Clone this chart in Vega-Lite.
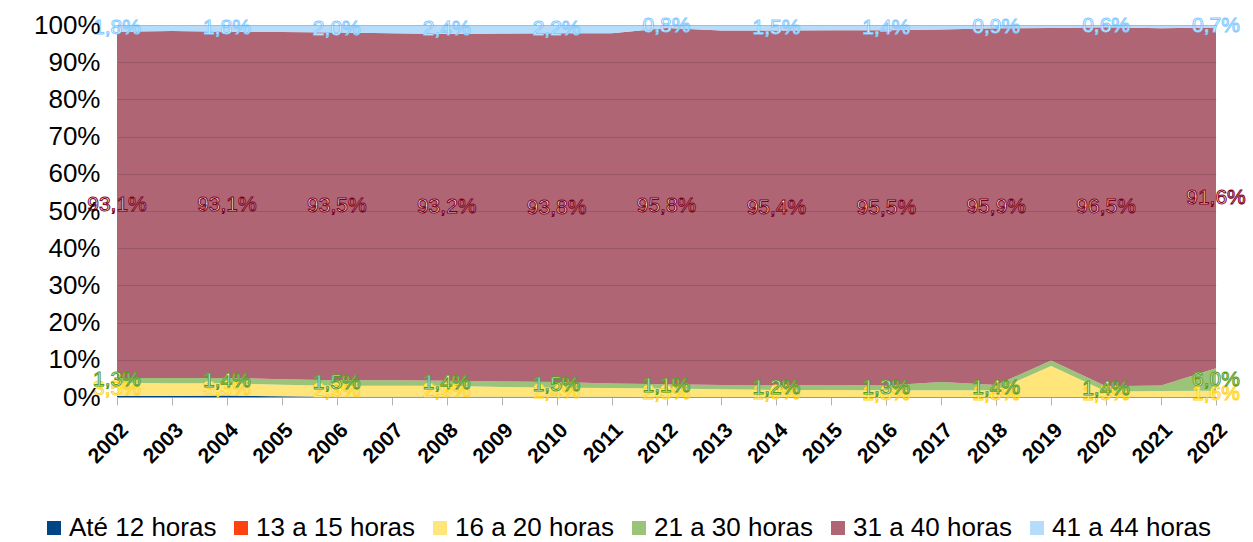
{
  "$schema": "https://vega.github.io/schema/vega-lite/v6.json",
  "width": 1099,
  "height": 372,
  "autosize": "none",
  "padding": {"left": 117, "top": 25, "right": 37, "bottom": 145},
  "background": "white",
  "config": {
    "font": "Liberation Sans",
    "view": {"stroke": null}
  },
  "data": {
    "values": [
      {"ano": 2002, "faixa": "Até 12 horas", "pct": 0.3}, {"ano": 2002, "faixa": "13 a 15 horas", "pct": 0.0}, {"ano": 2002, "faixa": "16 a 20 horas", "pct": 3.5}, {"ano": 2002, "faixa": "21 a 30 horas", "pct": 1.3}, {"ano": 2002, "faixa": "31 a 40 horas", "pct": 93.1}, {"ano": 2002, "faixa": "41 a 44 horas", "pct": 1.8},
      {"ano": 2003, "faixa": "Até 12 horas", "pct": 0.3}, {"ano": 2003, "faixa": "13 a 15 horas", "pct": 0.0}, {"ano": 2003, "faixa": "16 a 20 horas", "pct": 3.4}, {"ano": 2003, "faixa": "21 a 30 horas", "pct": 1.4}, {"ano": 2003, "faixa": "31 a 40 horas", "pct": 93.3}, {"ano": 2003, "faixa": "41 a 44 horas", "pct": 1.6},
      {"ano": 2004, "faixa": "Até 12 horas", "pct": 0.4}, {"ano": 2004, "faixa": "13 a 15 horas", "pct": 0.0}, {"ano": 2004, "faixa": "16 a 20 horas", "pct": 3.3}, {"ano": 2004, "faixa": "21 a 30 horas", "pct": 1.4}, {"ano": 2004, "faixa": "31 a 40 horas", "pct": 93.1}, {"ano": 2004, "faixa": "41 a 44 horas", "pct": 1.8},
      {"ano": 2005, "faixa": "Até 12 horas", "pct": 0.2}, {"ano": 2005, "faixa": "13 a 15 horas", "pct": 0.0}, {"ano": 2005, "faixa": "16 a 20 horas", "pct": 3.1}, {"ano": 2005, "faixa": "21 a 30 horas", "pct": 1.5}, {"ano": 2005, "faixa": "31 a 40 horas", "pct": 93.3}, {"ano": 2005, "faixa": "41 a 44 horas", "pct": 1.9},
      {"ano": 2006, "faixa": "Até 12 horas", "pct": 0.1}, {"ano": 2006, "faixa": "13 a 15 horas", "pct": 0.0}, {"ano": 2006, "faixa": "16 a 20 horas", "pct": 2.9}, {"ano": 2006, "faixa": "21 a 30 horas", "pct": 1.5}, {"ano": 2006, "faixa": "31 a 40 horas", "pct": 93.5}, {"ano": 2006, "faixa": "41 a 44 horas", "pct": 2.0},
      {"ano": 2007, "faixa": "Até 12 horas", "pct": 0.1}, {"ano": 2007, "faixa": "13 a 15 horas", "pct": 0.0}, {"ano": 2007, "faixa": "16 a 20 horas", "pct": 2.9}, {"ano": 2007, "faixa": "21 a 30 horas", "pct": 1.5}, {"ano": 2007, "faixa": "31 a 40 horas", "pct": 93.3}, {"ano": 2007, "faixa": "41 a 44 horas", "pct": 2.2},
      {"ano": 2008, "faixa": "Até 12 horas", "pct": 0.1}, {"ano": 2008, "faixa": "13 a 15 horas", "pct": 0.0}, {"ano": 2008, "faixa": "16 a 20 horas", "pct": 2.9}, {"ano": 2008, "faixa": "21 a 30 horas", "pct": 1.4}, {"ano": 2008, "faixa": "31 a 40 horas", "pct": 93.2}, {"ano": 2008, "faixa": "41 a 44 horas", "pct": 2.4},
      {"ano": 2009, "faixa": "Até 12 horas", "pct": 0.1}, {"ano": 2009, "faixa": "13 a 15 horas", "pct": 0.0}, {"ano": 2009, "faixa": "16 a 20 horas", "pct": 2.6}, {"ano": 2009, "faixa": "21 a 30 horas", "pct": 1.5}, {"ano": 2009, "faixa": "31 a 40 horas", "pct": 93.5}, {"ano": 2009, "faixa": "41 a 44 horas", "pct": 2.3},
      {"ano": 2010, "faixa": "Até 12 horas", "pct": 0.1}, {"ano": 2010, "faixa": "13 a 15 horas", "pct": 0.0}, {"ano": 2010, "faixa": "16 a 20 horas", "pct": 2.4}, {"ano": 2010, "faixa": "21 a 30 horas", "pct": 1.5}, {"ano": 2010, "faixa": "31 a 40 horas", "pct": 93.8}, {"ano": 2010, "faixa": "41 a 44 horas", "pct": 2.2},
      {"ano": 2011, "faixa": "Até 12 horas", "pct": 0.1}, {"ano": 2011, "faixa": "13 a 15 horas", "pct": 0.0}, {"ano": 2011, "faixa": "16 a 20 horas", "pct": 2.3}, {"ano": 2011, "faixa": "21 a 30 horas", "pct": 1.2}, {"ano": 2011, "faixa": "31 a 40 horas", "pct": 94.2}, {"ano": 2011, "faixa": "41 a 44 horas", "pct": 2.2},
      {"ano": 2012, "faixa": "Até 12 horas", "pct": 0.0}, {"ano": 2012, "faixa": "13 a 15 horas", "pct": 0.0}, {"ano": 2012, "faixa": "16 a 20 horas", "pct": 2.3}, {"ano": 2012, "faixa": "21 a 30 horas", "pct": 1.1}, {"ano": 2012, "faixa": "31 a 40 horas", "pct": 95.8}, {"ano": 2012, "faixa": "41 a 44 horas", "pct": 0.8},
      {"ano": 2013, "faixa": "Até 12 horas", "pct": 0.0}, {"ano": 2013, "faixa": "13 a 15 horas", "pct": 0.0}, {"ano": 2013, "faixa": "16 a 20 horas", "pct": 2.1}, {"ano": 2013, "faixa": "21 a 30 horas", "pct": 1.1}, {"ano": 2013, "faixa": "31 a 40 horas", "pct": 95.3}, {"ano": 2013, "faixa": "41 a 44 horas", "pct": 1.5},
      {"ano": 2014, "faixa": "Até 12 horas", "pct": 0.0}, {"ano": 2014, "faixa": "13 a 15 horas", "pct": 0.0}, {"ano": 2014, "faixa": "16 a 20 horas", "pct": 1.9}, {"ano": 2014, "faixa": "21 a 30 horas", "pct": 1.2}, {"ano": 2014, "faixa": "31 a 40 horas", "pct": 95.4}, {"ano": 2014, "faixa": "41 a 44 horas", "pct": 1.5},
      {"ano": 2015, "faixa": "Até 12 horas", "pct": 0.0}, {"ano": 2015, "faixa": "13 a 15 horas", "pct": 0.0}, {"ano": 2015, "faixa": "16 a 20 horas", "pct": 1.9}, {"ano": 2015, "faixa": "21 a 30 horas", "pct": 1.3}, {"ano": 2015, "faixa": "31 a 40 horas", "pct": 95.4}, {"ano": 2015, "faixa": "41 a 44 horas", "pct": 1.4},
      {"ano": 2016, "faixa": "Até 12 horas", "pct": 0.0}, {"ano": 2016, "faixa": "13 a 15 horas", "pct": 0.0}, {"ano": 2016, "faixa": "16 a 20 horas", "pct": 1.8}, {"ano": 2016, "faixa": "21 a 30 horas", "pct": 1.3}, {"ano": 2016, "faixa": "31 a 40 horas", "pct": 95.5}, {"ano": 2016, "faixa": "41 a 44 horas", "pct": 1.4},
      {"ano": 2017, "faixa": "Até 12 horas", "pct": 0.0}, {"ano": 2017, "faixa": "13 a 15 horas", "pct": 0.0}, {"ano": 2017, "faixa": "16 a 20 horas", "pct": 1.8}, {"ano": 2017, "faixa": "21 a 30 horas", "pct": 2.2}, {"ano": 2017, "faixa": "31 a 40 horas", "pct": 94.8}, {"ano": 2017, "faixa": "41 a 44 horas", "pct": 1.2},
      {"ano": 2018, "faixa": "Até 12 horas", "pct": 0.0}, {"ano": 2018, "faixa": "13 a 15 horas", "pct": 0.0}, {"ano": 2018, "faixa": "16 a 20 horas", "pct": 1.8}, {"ano": 2018, "faixa": "21 a 30 horas", "pct": 1.4}, {"ano": 2018, "faixa": "31 a 40 horas", "pct": 95.9}, {"ano": 2018, "faixa": "41 a 44 horas", "pct": 0.9},
      {"ano": 2019, "faixa": "Até 12 horas", "pct": 0.0}, {"ano": 2019, "faixa": "13 a 15 horas", "pct": 0.0}, {"ano": 2019, "faixa": "16 a 20 horas", "pct": 8.3}, {"ano": 2019, "faixa": "21 a 30 horas", "pct": 1.5}, {"ano": 2019, "faixa": "31 a 40 horas", "pct": 89.4}, {"ano": 2019, "faixa": "41 a 44 horas", "pct": 0.8},
      {"ano": 2020, "faixa": "Até 12 horas", "pct": 0.0}, {"ano": 2020, "faixa": "13 a 15 horas", "pct": 0.0}, {"ano": 2020, "faixa": "16 a 20 horas", "pct": 1.5}, {"ano": 2020, "faixa": "21 a 30 horas", "pct": 1.4}, {"ano": 2020, "faixa": "31 a 40 horas", "pct": 96.5}, {"ano": 2020, "faixa": "41 a 44 horas", "pct": 0.6},
      {"ano": 2021, "faixa": "Até 12 horas", "pct": 0.0}, {"ano": 2021, "faixa": "13 a 15 horas", "pct": 0.0}, {"ano": 2021, "faixa": "16 a 20 horas", "pct": 1.6}, {"ano": 2021, "faixa": "21 a 30 horas", "pct": 1.5}, {"ano": 2021, "faixa": "31 a 40 horas", "pct": 96.0}, {"ano": 2021, "faixa": "41 a 44 horas", "pct": 0.9},
      {"ano": 2022, "faixa": "Até 12 horas", "pct": 0.1}, {"ano": 2022, "faixa": "13 a 15 horas", "pct": 0.0}, {"ano": 2022, "faixa": "16 a 20 horas", "pct": 1.6}, {"ano": 2022, "faixa": "21 a 30 horas", "pct": 6.0}, {"ano": 2022, "faixa": "31 a 40 horas", "pct": 91.6}, {"ano": 2022, "faixa": "41 a 44 horas", "pct": 0.7}
    ]
  },
  "transform": [
    {"calculate": "datum.faixa == 'Até 12 horas' ? 0 : datum.faixa == '13 a 15 horas' ? 1 : datum.faixa == '16 a 20 horas' ? 2 : datum.faixa == '21 a 30 horas' ? 3 : datum.faixa == '31 a 40 horas' ? 4 : 5", "as": "ordem"},
    {"stack": "pct", "groupby": ["ano"], "sort": [{"field": "ordem", "order": "ascending"}], "as": ["y0", "y1"]},
    {"calculate": "(datum.y0 + datum.y1) / 2", "as": "ymid"}
  ],
  "encoding": {
    "x": {
      "field": "ano", "type": "quantitative",
      "scale": {"domain": [2002, 2022], "nice": false, "zero": false},
      "axis": {
        "title": null,
        "values": [2002,2003,2004,2005,2006,2007,2008,2009,2010,2011,2012,2013,2014,2015,2016,2017,2018,2019,2020,2021,2022],
        "format": "d",
        "labelAngle": -45,
        "labelFontSize": 21,
        "labelFontWeight": "bold",
        "labelColor": "#000000",
        "labelFont": "Liberation Sans",
        "labelPadding": 14,
        "labelOverlap": false,
        "labelFlush": false,
        "labelBound": false,
        "domainColor": "#b3b3b3",
        "tickColor": "#b3b3b3",
        "tickSize": 8,
        "grid": false
      }
    }
  },
  "layer": [
    {
      "mark": {"type": "area", "interpolate": "linear"},
      "encoding": {
        "y": {
          "field": "y0", "type": "quantitative",
          "scale": {"domain": [0, 100], "nice": false},
          "axis": {
            "title": null,
            "values": [0,10,20,30,40,50,60,70,80,90,100],
            "labelExpr": "datum.value + '%'",
            "labelFontSize": 26,
            "labelColor": "#000000",
            "labelFont": "Liberation Sans",
            "labelPadding": 17,
            "labelOverlap": false,
            "labelBound": false,
            "labelFlush": false,
            "domain": false,
            "ticks": false,
            "grid": true,
            "gridColor": "#000000",
            "gridOpacity": 0.13,
            "zindex": 1
          }
        },
        "y2": {"field": "y1"},
        "color": {
          "field": "faixa", "type": "nominal",
          "scale": {
            "domain": ["Até 12 horas","13 a 15 horas","16 a 20 horas","21 a 30 horas","31 a 40 horas","41 a 44 horas"],
            "range": ["#004586","#ff420e","#ffe57a","#9bc478","#b06575","#b5dcfb"]
          },
          "legend": {
            "title": null,
            "orient": "none",
            "direction": "horizontal",
            "legendX": -76,
            "legendY": 490,
            "symbolType": "square",
            "symbolSize": 196,
            "symbolStrokeWidth": 0,
            "symbolOpacity": 1,
            "labelFontSize": 26,
            "labelFont": "Liberation Sans",
            "labelColor": "#000000",
            "labelOffset": 2,
            "columnPadding": 11,
            "padding": 0,
            "labelLimit": 400
          }
        },
        "detail": {"field": "ordem"}
      }
    },
    {
      "transform": [
        {"filter": "datum.ano % 2 == 0 && datum.ordem >= 2"},
        {"calculate": "replace(format(datum.pct, '.1f'), '.', ',') + '%'", "as": "rotulo"}
      ],
      "mark": {"type": "text", "fontSize": 21, "font": "Liberation Sans", "fill": "#ffffff", "strokeWidth": 1, "baseline": "middle", "align": "center"},
      "encoding": {
        "y": {
          "field": "ymid", "type": "quantitative",
          "scale": {"domain": [0, 100], "nice": false},
          "axis": {
            "title": null,
            "values": [0,10,20,30,40,50,60,70,80,90,100],
            "labelExpr": "datum.value + '%'",
            "labelFontSize": 26,
            "labelColor": "#000000",
            "labelFont": "Liberation Sans",
            "labelPadding": 17,
            "labelOverlap": false,
            "labelBound": false,
            "labelFlush": false,
            "domain": false,
            "ticks": false,
            "grid": true,
            "gridColor": "#000000",
            "gridOpacity": 0.13,
            "zindex": 1
          }
        },
        "text": {"field": "rotulo", "type": "nominal"},
        "stroke": {
          "field": "faixa", "type": "nominal",
          "scale": {
            "domain": ["16 a 20 horas","21 a 30 horas","31 a 40 horas","41 a 44 horas"],
            "range": ["#ffd320","#579d1c","#7e0021","#83caff"]
          },
          "legend": null
        }
      }
    }
  ]
}
